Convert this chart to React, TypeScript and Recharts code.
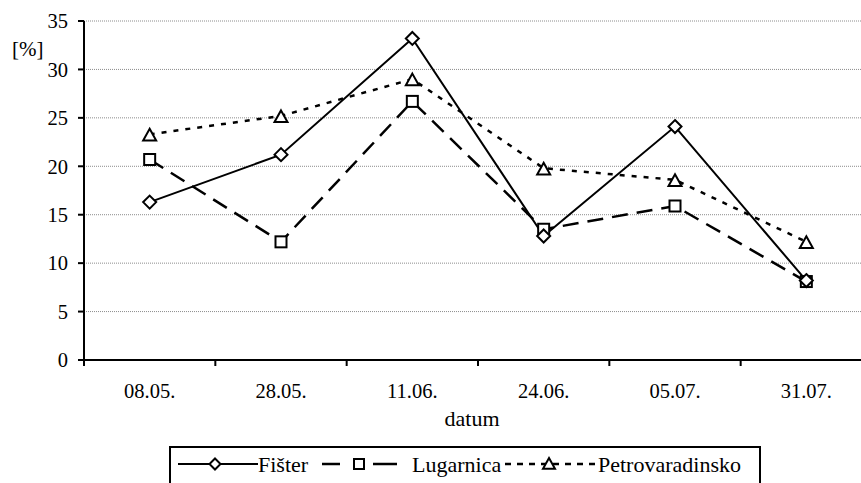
import React from 'react';
import { LineChart, Line, XAxis, YAxis, CartesianGrid, Legend } from 'recharts';

const categories = ['08.05.', '28.05.', '11.06.', '24.06.', '05.07.', '31.07.'];
const fister = [16.3, 21.2, 33.2, 12.8, 24.1, 8.2];
const lugarnica = [20.7, 12.2, 26.7, 13.5, 15.9, 8.1];
const petrovaradinsko = [23.3, 25.2, 29.0, 19.8, 18.6, 12.2];
const yTicks = [0, 5, 10, 15, 20, 25, 30, 35];
const seriesNames = ['Fišter', 'Lugarnica', 'Petrovaradinsko'];

const data = categories.map((c, i) => ({
  datum: c,
  f: fister[i],
  l: lugarnica[i],
  p: petrovaradinsko[i],
}));

const FONT = 'Liberation Serif';

const diamondPath = (cx: number, cy: number, r: number) =>
  `M${cx},${cy - r} L${cx + r},${cy} L${cx},${cy + r} L${cx - r},${cy} Z`;
const trianglePath = (cx: number, cy: number, r: number) =>
  `M${cx},${cy - r} L${cx + r},${cy + r * 0.8} L${cx - r},${cy + r * 0.8} Z`;

const DiamondDot = (props: any) => {
  const { cx, cy, index } = props;
  if (cx == null || cy == null) return <g key={index} />;
  return <path key={index} d={diamondPath(cx, cy, 6.5)} fill="#fff" stroke="#000" strokeWidth={2} />;
};
const SquareDot = (props: any) => {
  const { cx, cy, index } = props;
  if (cx == null || cy == null) return <g key={index} />;
  return <rect key={index} x={cx - 5.5} y={cy - 5.5} width={11} height={11} fill="#fff" stroke="#000" strokeWidth={2} />;
};
const TriangleDot = (props: any) => {
  const { cx, cy, index } = props;
  if (cx == null || cy == null) return <g key={index} />;
  return <path key={index} d={trianglePath(cx, cy + 1, 6.5)} fill="#fff" stroke="#000" strokeWidth={2} />;
};

const XTick = (props: any) => {
  const { x, y, payload, index, visibleTicksCount, width } = props;
  const half = width / visibleTicksCount / 2;
  return (
    <g>
      <line x1={x - half} x2={x - half} y1={y} y2={y + 6} stroke="#000" strokeWidth={2} />
      {index === visibleTicksCount - 1 && (
        <line x1={x + half} x2={x + half} y1={y} y2={y + 6} stroke="#000" strokeWidth={2} />
      )}
      <text x={x} y={y + 38} textAnchor="middle" fontFamily={FONT} fontSize={20.5} fill="#000">
        {payload.value}
      </text>
    </g>
  );
};

const spanStyle: React.CSSProperties = { display: 'inline-block', lineHeight: '22px', height: 22 };

const LegendBox = () => (
  <div
    style={{
      boxSizing: 'border-box',
      width: 592,
      height: 44,
      border: '2px solid #000',
      display: 'flex',
      alignItems: 'flex-start',
      paddingLeft: 7,
      paddingTop: 6,
      fontFamily: FONT,
      fontSize: 22,
      color: '#000',
      background: '#fff',
      whiteSpace: 'nowrap',
    }}
  >
    <svg width={80} height={22} style={{ flex: 'none' }}>
      <line x1={0} x2={80} y1={10} y2={10} stroke="#000" strokeWidth={2} />
      <path d={diamondPath(37, 10, 5.5)} fill="#fff" stroke="#000" strokeWidth={2} />
    </svg>
    <span style={{ ...spanStyle, width: 58, flex: 'none' }}>{seriesNames[0]}</span>
    <svg width={96} height={22} style={{ flex: 'none' }}>
      <line x1={6} x2={24} y1={10} y2={10} stroke="#000" strokeWidth={2.5} />
      <line x1={57} x2={81} y1={10} y2={10} stroke="#000" strokeWidth={2.5} />
      <rect x={38} y={5} width={10} height={10} fill="#fff" stroke="#000" strokeWidth={2} />
    </svg>
    <span style={{ ...spanStyle, width: 91, flex: 'none' }}>{seriesNames[1]}</span>
    <svg width={95} height={22} style={{ flex: 'none' }}>
      <line x1={2} x2={94} y1={10} y2={10} stroke="#000" strokeWidth={2.5} strokeDasharray="6 6" />
      <path d={trianglePath(46, 10, 6)} fill="#fff" stroke="#000" strokeWidth={2} />
    </svg>
    <span style={{ ...spanStyle, flex: 'none' }}>{seriesNames[2]}</span>
  </div>
);

export default function App() {
  return (
    <div
      style={{
        position: 'absolute',
        left: 0,
        top: 0,
        width: 861,
        height: 483,
        overflow: 'hidden',
        background: '#fff',
        fontFamily: FONT,
      }}
    >
      <LineChart
        width={900}
        height={483}
        data={data}
        margin={{ top: 21, right: 28, left: 24, bottom: 57 }}
      >
        <CartesianGrid vertical={false} stroke="#8c8c8c" strokeDasharray="1 1" />
        <XAxis
          dataKey="datum"
          scale="band"
          height={66}
          axisLine={{ stroke: '#000', strokeWidth: 2 }}
          tickLine={false}
          tickSize={0}
          tickMargin={0}
          tick={<XTick />}
          interval={0}
          label={{
            value: 'datum',
            position: 'insideBottom',
            offset: 0,
            dx: -6,
            fontFamily: FONT,
            fontSize: 22,
            fill: '#000',
          }}
        />
        <YAxis
          width={60}
          domain={[0, 35]}
          ticks={yTicks}
          interval={0}
          axisLine={{ stroke: '#000', strokeWidth: 2 }}
          tickLine={{ stroke: '#000', strokeWidth: 2 }}
          tickSize={6}
          tickMargin={10}
          tick={{ fontFamily: FONT, fontSize: 20.5, fill: '#000' }}
          label={{
            value: '[%]',
            position: 'insideTopLeft',
            offset: 0,
            dx: -12,
            dy: 20,
            fontFamily: FONT,
            fontSize: 21,
            fill: '#000',
          }}
        />
        <Legend
          layout="horizontal"
          verticalAlign="middle"
          align="center"
          content={<LegendBox />}
          wrapperStyle={{ left: 169, top: 446, width: 592, height: 44 }}
        />
        <Line
          type="linear"
          dataKey="p"
          name={seriesNames[2]}
          stroke="#000"
          strokeWidth={2.5}
          strokeDasharray="5 7"
          dot={TriangleDot}
          activeDot={false}
          isAnimationActive={false}
        />
        <Line
          type="linear"
          dataKey="l"
          name={seriesNames[1]}
          stroke="#000"
          strokeWidth={2.5}
          strokeDasharray="16 9"
          dot={SquareDot}
          activeDot={false}
          isAnimationActive={false}
        />
        <Line
          type="linear"
          dataKey="f"
          name={seriesNames[0]}
          stroke="#000"
          strokeWidth={2}
          dot={DiamondDot}
          activeDot={false}
          isAnimationActive={false}
        />
      </LineChart>
    </div>
  );
}
